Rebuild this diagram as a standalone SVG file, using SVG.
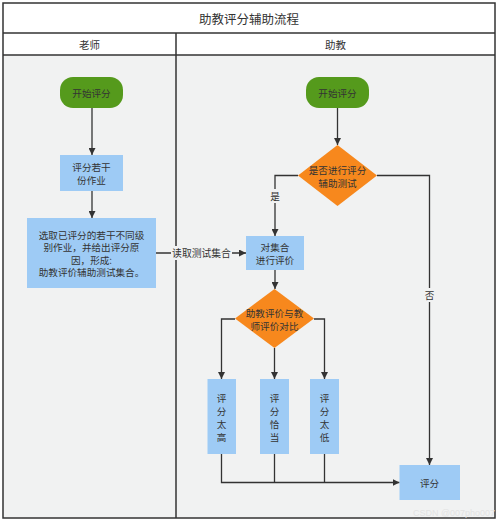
<svg xmlns="http://www.w3.org/2000/svg" width="500" height="522" viewBox="0 0 500 522">
<defs>
<marker id="arr" viewBox="0 0 10 10" refX="10" refY="5" markerWidth="7" markerHeight="7" markerUnits="userSpaceOnUse" orient="auto">
<path d="M0,0 L10,5 L0,10 Z" fill="#333"/>
</marker>
<style>
text{font-family:"Noto Sans CJK SC","Noto Sans",sans-serif;fill:#333;}
.t{font-size:9.6px;text-anchor:middle;dominant-baseline:central;}
.start{fill:#559a1c;}
.box{fill:#9ecbf5;}
.dia{fill:#f7881d;}
.ln{fill:none;stroke:#333;stroke-width:1.3;}
.frame{fill:none;stroke:#333;stroke-width:1.5;}
</style>
</defs>
<rect x="0" y="0" width="500" height="522" fill="#ffffff"/>
<g id="lanes">
<rect x="3" y="55" width="492" height="463" fill="#f1f2f2"/>
<rect x="3" y="3" width="492" height="515" class="frame"/>
<line x1="3" y1="33" x2="495" y2="33" class="frame"/>
<line x1="3" y1="55" x2="495" y2="55" class="frame"/>
<line x1="176" y1="33" x2="176" y2="518" class="frame"/>
<text x="249" y="18" class="t" style="font-size:12.5px">助教评分辅助流程</text>
<text x="89.5" y="44.5" class="t" style="font-size:10.5px">老师</text>
<text x="335.5" y="44.5" class="t" style="font-size:10.5px">助教</text>
</g>
<g id="connectors">
<line x1="92" y1="108" x2="92" y2="155" class="ln" marker-end="url(#arr)"/>
<line x1="92" y1="191" x2="92" y2="218" class="ln" marker-end="url(#arr)"/>
<line x1="156" y1="253" x2="246" y2="253" class="ln" marker-end="url(#arr)"/>
<rect x="171" y="246" width="61" height="14" fill="#f1f2f2"/>
<text x="201.5" y="253" class="t" style="font-size:9.8px">读取测试集合</text>
<line x1="337.5" y1="108" x2="337.5" y2="145" class="ln" marker-end="url(#arr)"/>
<polyline points="298,175.5 275,175.5 275,236" class="ln" marker-end="url(#arr)"/>
<rect x="269" y="189" width="12" height="14" fill="#f1f2f2"/>
<text x="275" y="196" class="t">是</text>
<polyline points="377,175.5 429.5,175.5 429.5,465" class="ln" marker-end="url(#arr)"/>
<rect x="423" y="288" width="13" height="14" fill="#f1f2f2"/>
<text x="429.5" y="295" class="t">否</text>
<line x1="275" y1="270" x2="275" y2="289" class="ln" marker-end="url(#arr)"/>
<polyline points="235,319 221.5,319 221.5,379" class="ln" marker-end="url(#arr)"/>
<line x1="274.5" y1="348" x2="274.5" y2="379" class="ln" marker-end="url(#arr)"/>
<polyline points="314,319 324.5,319 324.5,379" class="ln" marker-end="url(#arr)"/>
<polyline points="221.5,454 221.5,482.5 399.5,482.5" class="ln" marker-end="url(#arr)"/>
<line x1="274.5" y1="454" x2="274.5" y2="482.5" class="ln"/>
<line x1="324.5" y1="454" x2="324.5" y2="482.5" class="ln"/>
</g>
<g id="start-teacher">
<rect x="60" y="77" width="63" height="31" rx="13" class="start"/>
<text x="91.5" y="92.5" class="t">开始评分</text>
</g>
<g id="grade-some">
<rect x="60" y="155" width="63" height="36" class="box"/>
<text x="91.5" y="166.5" class="t">评分若干</text>
<text x="91.5" y="179.5" class="t">份作业</text>
</g>
<g id="select-set">
<rect x="27" y="218" width="129" height="70" class="box"/>
<text x="91.5" y="234.5" class="t">选取已评分的若干不同级</text>
<text x="91.5" y="247" class="t">别作业，并给出评分原</text>
<text x="91.5" y="259.5" class="t">因，形成:</text>
<text x="91.5" y="272" class="t">助教评价辅助测试集合。</text>
</g>
<g id="start-ta">
<rect x="306" y="77" width="63" height="31" rx="13" class="start"/>
<text x="337.5" y="92.5" class="t">开始评分</text>
</g>
<g id="decide-test">
<polygon points="337.5,145 377,175.5 337.5,206 298,175.5" class="dia"/>
<text x="337.5" y="169.5" class="t">是否进行评分</text>
<text x="337.5" y="182.5" class="t">辅助测试</text>
</g>
<g id="evaluate-set">
<rect x="246" y="236" width="58" height="34" class="box"/>
<text x="275" y="246.5" class="t">对集合</text>
<text x="275" y="259.5" class="t">进行评价</text>
</g>
<g id="compare">
<polygon points="274.5,289 314,318.5 274.5,348 235,318.5" class="dia"/>
<text x="274.5" y="312.5" class="t">助教评价与教</text>
<text x="274.5" y="325.5" class="t">师评价对比</text>
</g>
<g id="too-high">
<rect x="207.5" y="379" width="28.5" height="75" class="box"/>
<text x="221.5" y="398" class="t">评</text>
<text x="221.5" y="411" class="t">分</text>
<text x="221.5" y="424" class="t">太</text>
<text x="221.5" y="437" class="t">高</text>
</g>
<g id="proper">
<rect x="260" y="379" width="29" height="75" class="box"/>
<text x="274.5" y="398" class="t">评</text>
<text x="274.5" y="411" class="t">分</text>
<text x="274.5" y="424" class="t">恰</text>
<text x="274.5" y="437" class="t">当</text>
</g>
<g id="too-low">
<rect x="310" y="379" width="29" height="75" class="box"/>
<text x="324.5" y="398" class="t">评</text>
<text x="324.5" y="411" class="t">分</text>
<text x="324.5" y="424" class="t">太</text>
<text x="324.5" y="437" class="t">低</text>
</g>
<g id="grade">
<rect x="399.5" y="465" width="60.5" height="35" class="box"/>
<text x="429.5" y="482.5" class="t">评分</text>
</g>
<text x="454" y="513" style="font-size:9px;text-anchor:middle;dominant-baseline:central;fill:#e2e2e2;font-family:'Liberation Sans',sans-serif">CSDN @007pho007</text>
</svg>
